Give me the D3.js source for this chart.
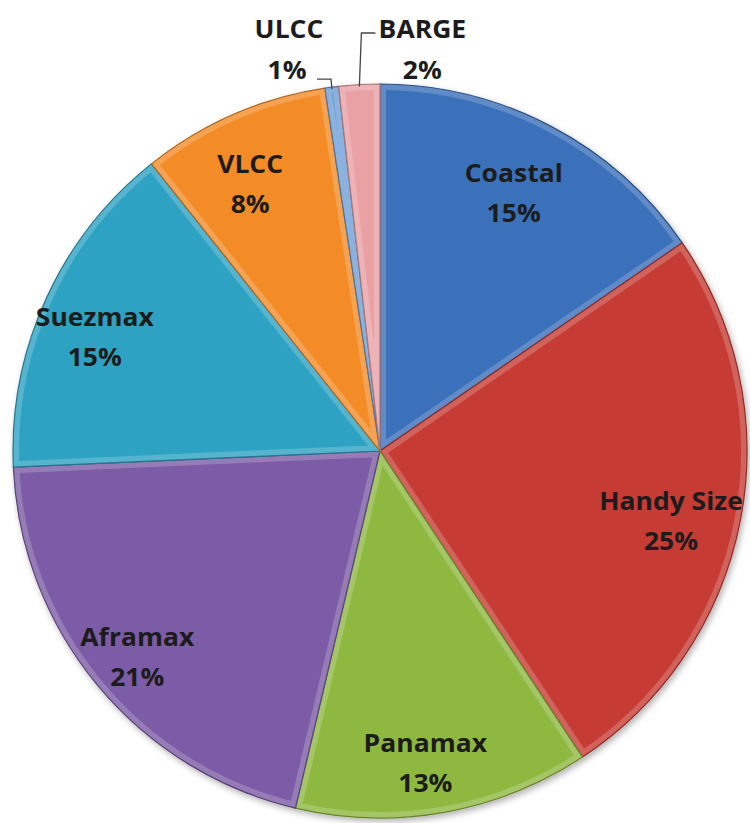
<!DOCTYPE html>
<html>
<head>
<meta charset="utf-8">
<script src="https://cdn.jsdelivr.net/npm/d3@7"></script>
<style>
  html, body { margin: 0; padding: 0; background: #fff; }
  svg text { font-family: "Open Sans", Lato, sans-serif; font-weight: bold; fill: #1c1c1c; }
</style>
</head>
<body>
<svg id="chart" width="750" height="823"></svg>
<script>
// slice data, clockwise from 12 o'clock
const categories = ["Coastal", "Handy Size", "Panamax", "Aframax", "Suezmax", "VLCC", "ULCC", "BARGE"];
const shares = [15.4, 25.3, 13.0, 20.6, 15.0, 8.3, 0.6, 1.8];
const pctLabels = ["15%", "25%", "13%", "21%", "15%", "8%", "1%", "2%"];
const colors = ["#3a6fba", "#c73b34", "#8fb840", "#7c5ba6", "#2da2c2", "#f38c27", "#6f9fd6", "#e9a1a4"];

const cx = 380, cy = 451, radius = 367;
const fontSize = 25;

const svg = d3.select("#chart");
const defs = svg.append("defs");

// soft shadow under the pie
const shadow = defs.append("filter").attr("id", "shadow")
  .attr("x", "-10%").attr("y", "-10%").attr("width", "120%").attr("height", "120%");
shadow.append("feDropShadow")
  .attr("dx", 2).attr("dy", 3).attr("stdDeviation", 3)
  .attr("flood-color", "#000").attr("flood-opacity", 0.3);

const pie = d3.pie().sort(null).value(d => d.value);
const arcs = pie(categories.map((c, i) => ({ name: c, value: shares[i], pct: pctLabels[i], color: colors[i] })));

const arc = d3.arc().innerRadius(0).outerRadius(radius);
const labelArc = d3.arc().innerRadius(radius * 0.83).outerRadius(radius * 0.83);

const g = svg.append("g").attr("transform", `translate(${cx},${cy})`);

const slices = g.append("g").attr("filter", "url(#shadow)");

arcs.forEach((d, i) => {
  defs.append("clipPath").attr("id", "clip" + i)
    .append("path").attr("d", arc(d));

  const s = slices.append("g");
  s.append("path")
    .attr("d", arc(d))
    .attr("fill", d.data.color);
  // bevel: light rim inside the slice edge
  s.append("path")
    .attr("d", arc(d))
    .attr("fill", "none")
    .attr("stroke", "#fff")
    .attr("stroke-opacity", 0.2)
    .attr("stroke-width", 12)
    .attr("clip-path", `url(#clip${i})`);
  s.append("path")
    .attr("d", arc(d))
    .attr("fill", "none")
    .attr("stroke", d3.color(d.data.color).darker(0.9))
    .attr("stroke-width", 1.2);
});

// text is a bit wider than the font, stretch it horizontally
function addLabel(x, y, lines) {
  const t = g.append("g").attr("transform", `translate(${x},${y}) scale(1.06,1)`)
    .append("text")
    .attr("text-anchor", "middle")
    .attr("font-size", fontSize);
  lines.forEach(([txt, dy]) => t.append("tspan").attr("x", 0).attr("y", dy).text(txt));
}

// labels inside the big slices
const labelShift = [-8, 12];
arcs.filter(d => d.data.value > 5).forEach(d => {
  const [x, y] = labelArc.centroid(d);
  addLabel(x + labelShift[0], y + labelShift[1], [[d.data.name, -11], [d.data.pct, 29]]);
});

// small slices: labels outside with leader lines
const ulcc = arcs[6], barge = arcs[7];
function edgePoint(d, r) {
  const a = (d.startAngle + d.endAngle) / 2;
  return [Math.sin(a) * r, -Math.cos(a) * r];
}

const p1 = edgePoint(ulcc, radius - 2);
g.append("polyline")
  .attr("points", [p1, [p1[0] - 1, p1[1] - 10], [p1[0] - 15, p1[1] - 10]].map(p => p.join(",")).join(" "))
  .attr("fill", "none").attr("stroke", "#444").attr("stroke-width", 1.3);
addLabel(p1[0] - 43, -413, [["ULCC", 0]]);
addLabel(p1[0] - 45, -372, [[ulcc.data.pct, 0]]);

const p2 = edgePoint(barge, radius - 2);
g.append("polyline")
  .attr("points", [p2, [p2[0] + 2, -418], [p2[0] + 16, -418]].map(p => p.join(",")).join(" "))
  .attr("fill", "none").attr("stroke", "#444").attr("stroke-width", 1.3);
addLabel(p2[0] + 63, -413, [["BARGE", 0]]);
addLabel(p2[0] + 63, -372, [[barge.data.pct, 0]]);
</script>
</body>
</html>
